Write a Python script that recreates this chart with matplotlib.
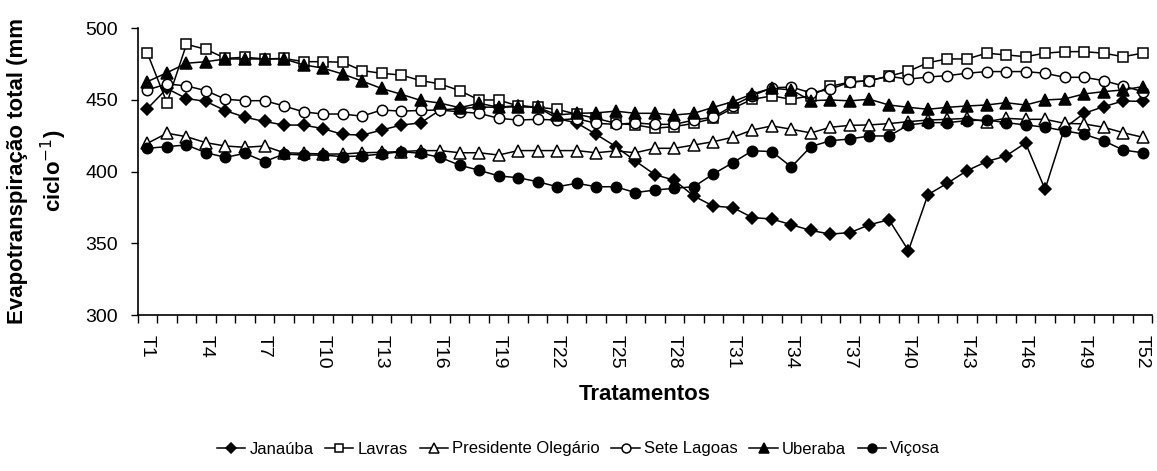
"""
Evapotranspiração total por tratamento em seis locais de Minas Gerais.
"""
import numpy as np
import matplotlib
matplotlib.use("Agg")
import matplotlib.pyplot as plt

# --- dados ---
tratamentos = [f"T{i}" for i in range(1, 53)]

janauba = [444, 458, 451, 449, 442.5, 438, 435, 432.5, 432.5, 430, 426, 425.5, 429,
           432.5, 434, 443, 444, 445, 445, 446, 445, 437, 434, 426, 417.5, 407.5,
           398, 394, 383, 376, 375, 368, 367, 363, 359, 356.5, 357.5, 363, 366.5,
           345, 384, 392, 400.7, 407, 411, 420, 387.7, 430.5, 440.7, 445.3, 449.3, 449]

lavras = [482.6, 448, 488.8, 485.3, 479, 479.8, 478.6, 479, 476.7, 476.7, 476.3, 470.5,
          468.6, 467.4, 463.5, 461.2, 456.5, 450, 450, 445.8, 444.9, 443.5, 440, 437.2,
          433.7, 432.6, 430.3, 431.4, 433.7, 437.2, 444.2, 450.5, 452.8, 450.5, 453,
          459.5, 462.5, 463.5, 466.7, 470, 476, 478.6, 478.6, 482.6, 481.4, 480.2,
          482.6, 483.7, 483.7, 482.6, 480.2, 482.6]

pres_olegario = [419.8, 426.8, 424.4, 420.2, 417.9, 417, 417.9, 413.2, 412.8, 412.3,
                 412.3, 413.2, 413.5, 414, 414.7, 414.7, 413.2, 413.2, 411.6, 414.7,
                 414.7, 414.7, 414.7, 413.2, 414.5, 413.2, 416.3, 416.3, 418.6, 420.9,
                 424, 429.1, 431.9, 429.6, 427, 431, 432.3, 432.6, 433.5, 434.9, 436,
                 436.5, 437.2, 434.9, 437.2, 436.5, 436.5, 433.7, 433.3, 431, 427.2, 424]

sete_lagoas = [457, 461.2, 459.8, 456.5, 450.5, 449.5, 449.5, 445.8, 441.7, 440.2,
               440.2, 438.7, 443, 442.2, 442.7, 443, 441.7, 440.7, 437.2, 436, 436.5,
               436, 437, 433.7, 433, 434, 433, 433, 436, 438, 446, 453, 458.5, 459,
               455, 457.5, 462.5, 463.5, 466.5, 464.5, 466, 467, 468.6, 469.8, 469.8,
               469.8, 468.6, 465.8, 465.8, 463.5, 459.8, 455.8]

uberaba = [462.8, 469, 475.6, 476.7, 478.6, 478.6, 478.6, 478.6, 474.5, 472.2, 468.1,
           463.2, 458, 454, 449.7, 447.8, 444.6, 447.7, 444.9, 445.3, 444.9, 439.5,
           440.7, 441, 442.2, 440.7, 440.7, 439.5, 440.7, 444.9, 448.8, 454.2, 458.2,
           457, 449.5, 450, 449.4, 450.5, 446.5, 444.9, 443.5, 444.9, 445.8, 446.5,
           448.1, 446.5, 450, 450.7, 454.2, 455.8, 457, 459.3]

vicosa = [416.3, 417.5, 418.6, 413.2, 410, 412.8, 407, 412.3, 411.6, 411.6, 410.5, 411,
          412.3, 414, 412.8, 410, 404.5, 401, 397, 395.8, 393, 389.5, 391.9, 389.5,
          389.5, 385.4, 387.2, 388.4, 389.5, 398.4, 406.3, 414.6, 414, 403.3, 417.5,
          421.6, 422.8, 424.9, 424.9, 432.6, 434.2, 434.2, 435.6, 436, 434.2, 432.6,
          431, 428.5, 426.1, 421.6, 415.1, 413.2]


def main():
    plt.rcParams['font.family'] = ['Liberation Sans', 'DejaVu Sans']

    fig = plt.figure(figsize=(11.57, 4.71), dpi=100)
    ax = fig.add_axes([0.119, 0.331, 0.877, 0.609])

    x = np.arange(len(tratamentos))
    series = [
        ("Janaúba", janauba, dict(marker='D', ms=6, mfc='black')),
        ("Lavras", lavras, dict(marker='s', ms=7.5, mfc='white')),
        ("Presidente Olegário", pres_olegario, dict(marker='^', ms=8, mfc='white')),
        ("Sete Lagoas", sete_lagoas, dict(marker='o', ms=7.5, mfc='white')),
        ("Uberaba", uberaba, dict(marker='^', ms=8, mfc='black')),
        ("Viçosa", vicosa, dict(marker='o', ms=7.5, mfc='black')),
    ]
    for name, vals, style in series:
        ax.plot(x, vals, color='black', lw=1.1, mec='black', mew=1.1,
                label=name, **style)

    # eixo y
    ax.set_ylim(300, 500)
    ax.set_yticks(np.arange(300, 501, 50))
    ax.tick_params(axis='y', direction='out', length=5, width=1,
                   labelsize=14, pad=9)

    # eixo x: rótulos a cada 3 categorias, marcas entre categorias
    ax.set_xlim(-0.5, len(x) - 0.5)
    ax.set_xticks(x[::3])
    ax.set_xticklabels(tratamentos[::3], rotation=-90, fontsize=14)
    ax.set_xticks(np.arange(-0.5, len(x), 1), minor=True)
    ax.tick_params(axis='x', which='major', length=0, pad=14)
    ax.tick_params(axis='x', which='minor', direction='out', length=6, width=1)

    for side in ('top', 'right'):
        ax.spines[side].set_visible(False)
    for side in ('left', 'bottom'):
        ax.spines[side].set_linewidth(1.2)

    # títulos dos eixos
    fig.text(38 / 1157, 1 - 171 / 471,
             'Evapotranspiração total (mm\nciclo$^{-1}$)',
             rotation=90, ha='center', va='center', fontsize=16,
             fontweight='bold', linespacing=1.45, multialignment='center')
    fig.text(645 / 1157, 1 - 395 / 471, 'Tratamentos', ha='center', va='center',
             fontsize=16, fontweight='bold')

    fig.legend(loc='center', bbox_to_anchor=(0.5, 1 - 449 / 471), ncol=6,
               frameon=False, fontsize=12, handlelength=1.7, columnspacing=0.7,
               handletextpad=0.25, markerscale=0.85)

    fig.savefig('out.png', dpi=100)


if __name__ == "__main__":
    main()
